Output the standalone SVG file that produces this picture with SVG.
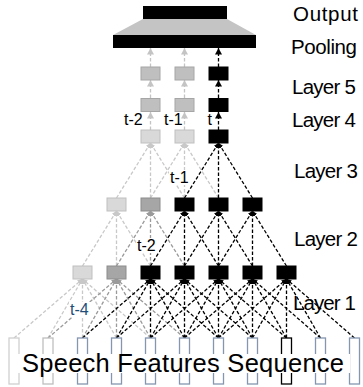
<svg xmlns="http://www.w3.org/2000/svg" width="363" height="387" viewBox="0 0 363 387">
<defs>
<style>
.c{fill:none;stroke-width:1.3;stroke-dasharray:3.5 2}
.k{stroke:#000;marker-end:url(#ak)}
.g{stroke:#9a9a9a;marker-end:url(#ag)}
.l{stroke:#c8c8c8;marker-end:url(#al)}
.vk{stroke:#000;marker-end:url(#bk)}
.vl{stroke:#c4c4c4;marker-end:url(#bl)}
.nk{fill:#000;stroke:#000;stroke-width:1}
.ng{fill:#a6a6a6;stroke:#8c8c8c;stroke-width:1}
.nl{fill:#d9d9d9;stroke:#bfbfbf;stroke-width:1}
.nm{fill:#bfbfbf;stroke:#a6a6a6;stroke-width:1}
.in{fill:#fff;stroke-width:1.3}
.lab{font-family:"Liberation Sans",Arial,sans-serif;font-size:20.5px;fill:#000}
.t{font-family:"Liberation Sans",Arial,sans-serif;font-size:16px;fill:#000}
</style>
<marker id="ak" markerUnits="userSpaceOnUse" markerWidth="6" markerHeight="6" refX="5" refY="2.5" orient="auto"><path d="M0,0 L5,2.5 L0,5 z" fill="#000"/></marker>
<marker id="ag" markerUnits="userSpaceOnUse" markerWidth="6" markerHeight="6" refX="5" refY="2.5" orient="auto"><path d="M0,0 L5,2.5 L0,5 z" fill="#9a9a9a"/></marker>
<marker id="al" markerUnits="userSpaceOnUse" markerWidth="6" markerHeight="6" refX="5" refY="2.5" orient="auto"><path d="M0,0 L5,2.5 L0,5 z" fill="#c8c8c8"/></marker>
<marker id="bk" markerUnits="userSpaceOnUse" markerWidth="8" markerHeight="8" refX="6.5" refY="3.5" orient="auto"><path d="M0,0 L6.5,3.5 L0,7 z" fill="#000"/></marker>
<marker id="bl" markerUnits="userSpaceOnUse" markerWidth="8" markerHeight="8" refX="6.5" refY="3.5" orient="auto"><path d="M0,0 L6.5,3.5 L0,7 z" fill="#c4c4c4"/></marker>
</defs>
<rect width="363" height="387" fill="#fff"/>
<g id="connectors">
<line class="c l" x1="14" y1="338" x2="82.5" y2="279"/>
<line class="c l" x1="48" y1="338" x2="82.5" y2="279"/>
<line class="c l" x1="82.5" y1="338" x2="82.5" y2="279"/>
<line class="c l" x1="116.5" y1="338" x2="82.5" y2="279"/>
<line class="c l" x1="150.5" y1="338" x2="82.5" y2="279"/>
<line class="c g" x1="48" y1="338" x2="116.5" y2="279"/>
<line class="c g" x1="82.5" y1="338" x2="116.5" y2="279"/>
<line class="c g" x1="116.5" y1="338" x2="116.5" y2="279"/>
<line class="c g" x1="150.5" y1="338" x2="116.5" y2="279"/>
<line class="c g" x1="184.5" y1="338" x2="116.5" y2="279"/>
<line class="c k" x1="82.5" y1="338" x2="150.5" y2="279"/>
<line class="c k" x1="116.5" y1="338" x2="150.5" y2="279"/>
<line class="c k" x1="150.5" y1="338" x2="150.5" y2="279"/>
<line class="c k" x1="184.5" y1="338" x2="150.5" y2="279"/>
<line class="c k" x1="218.5" y1="338" x2="150.5" y2="279"/>
<line class="c k" x1="116.5" y1="338" x2="184.5" y2="279"/>
<line class="c k" x1="150.5" y1="338" x2="184.5" y2="279"/>
<line class="c k" x1="184.5" y1="338" x2="184.5" y2="279"/>
<line class="c k" x1="218.5" y1="338" x2="184.5" y2="279"/>
<line class="c k" x1="252.5" y1="338" x2="184.5" y2="279"/>
<line class="c k" x1="150.5" y1="338" x2="218.5" y2="279"/>
<line class="c k" x1="184.5" y1="338" x2="218.5" y2="279"/>
<line class="c k" x1="218.5" y1="338" x2="218.5" y2="279"/>
<line class="c k" x1="252.5" y1="338" x2="218.5" y2="279"/>
<line class="c k" x1="286.5" y1="338" x2="218.5" y2="279"/>
<line class="c k" x1="184.5" y1="338" x2="252.5" y2="279"/>
<line class="c k" x1="218.5" y1="338" x2="252.5" y2="279"/>
<line class="c k" x1="252.5" y1="338" x2="252.5" y2="279"/>
<line class="c k" x1="286.5" y1="338" x2="252.5" y2="279"/>
<line class="c k" x1="320.5" y1="338" x2="252.5" y2="279"/>
<line class="c k" x1="218.5" y1="338" x2="286.5" y2="279"/>
<line class="c k" x1="252.5" y1="338" x2="286.5" y2="279"/>
<line class="c k" x1="286.5" y1="338" x2="286.5" y2="279"/>
<line class="c k" x1="320.5" y1="338" x2="286.5" y2="279"/>
<line class="c k" x1="354.5" y1="338" x2="286.5" y2="279"/>
<line class="c l" x1="82.5" y1="266" x2="116.5" y2="211"/>
<line class="c l" x1="116.5" y1="266" x2="116.5" y2="211"/>
<line class="c l" x1="150.5" y1="266" x2="116.5" y2="211"/>
<line class="c g" x1="116.5" y1="266" x2="150.5" y2="211"/>
<line class="c g" x1="150.5" y1="266" x2="150.5" y2="211"/>
<line class="c g" x1="184.5" y1="266" x2="150.5" y2="211"/>
<line class="c k" x1="150.5" y1="266" x2="184.5" y2="211"/>
<line class="c k" x1="184.5" y1="266" x2="184.5" y2="211"/>
<line class="c k" x1="218.5" y1="266" x2="184.5" y2="211"/>
<line class="c k" x1="184.5" y1="266" x2="218.5" y2="211"/>
<line class="c k" x1="218.5" y1="266" x2="218.5" y2="211"/>
<line class="c k" x1="252.5" y1="266" x2="218.5" y2="211"/>
<line class="c k" x1="218.5" y1="266" x2="252.5" y2="211"/>
<line class="c k" x1="252.5" y1="266" x2="252.5" y2="211"/>
<line class="c k" x1="286.5" y1="266" x2="252.5" y2="211"/>
<line class="c l" x1="116.5" y1="198" x2="150.5" y2="143"/>
<line class="c l" x1="150.5" y1="198" x2="150.5" y2="143"/>
<line class="c l" x1="184.5" y1="198" x2="150.5" y2="143"/>
<line class="c l" x1="150.5" y1="198" x2="184.5" y2="143"/>
<line class="c l" x1="184.5" y1="198" x2="184.5" y2="143"/>
<line class="c l" x1="218.5" y1="198" x2="184.5" y2="143"/>
<line class="c k" x1="184.5" y1="198" x2="218.5" y2="143"/>
<line class="c k" x1="218.5" y1="198" x2="218.5" y2="143"/>
<line class="c k" x1="252.5" y1="198" x2="218.5" y2="143"/>
<line class="c vl" x1="150.5" y1="130" x2="150.5" y2="112"/>
<line class="c vl" x1="184.5" y1="130" x2="184.5" y2="112"/>
<line class="c vk" x1="218.5" y1="130" x2="218.5" y2="112"/>
<line class="c vl" x1="150.5" y1="98" x2="150.5" y2="80"/>
<line class="c vl" x1="184.5" y1="98" x2="184.5" y2="80"/>
<line class="c vk" x1="218.5" y1="98" x2="218.5" y2="80"/>
<line class="c vl" x1="150.5" y1="67" x2="150.5" y2="48"/>
<line class="c vl" x1="184.5" y1="67" x2="184.5" y2="48"/>
<line class="c vk" x1="218.5" y1="67" x2="218.5" y2="48"/>
</g>
<g id="output"><rect x="143" y="6" width="84" height="13" fill="#000"/></g>
<g id="trapezoid"><polygon points="143,19 227,19 256,35 113,35" fill="#c4c4c4"/></g>
<g id="pooling"><rect x="113" y="35" width="143" height="13" fill="#000"/></g>
<g id="layer5">
<rect class="nm" x="141" y="67" width="19" height="13"/>
<rect class="nm" x="175" y="67" width="19" height="13"/>
<rect class="nk" x="209" y="67" width="19" height="13"/>
</g>
<g id="layer4">
<rect class="nm" x="141" y="98.5" width="19" height="13"/>
<rect class="nm" x="175" y="98.5" width="19" height="13"/>
<rect class="nk" x="209" y="98.5" width="19" height="13"/>
</g>
<g id="layer3">
<rect class="nl" x="141" y="130" width="19" height="13"/>
<rect class="nl" x="175" y="130" width="19" height="13"/>
<rect class="nk" x="209" y="130" width="19" height="13"/>
</g>
<g id="layer2">
<rect class="nl" x="107" y="198" width="19" height="13"/>
<rect class="ng" x="141" y="198" width="19" height="13"/>
<rect class="nk" x="175" y="198" width="19" height="13"/>
<rect class="nk" x="209" y="198" width="19" height="13"/>
<rect class="nk" x="243" y="198" width="19" height="13"/>
</g>
<g id="layer1">
<rect class="nl" x="73" y="266" width="19" height="13"/>
<rect class="ng" x="107" y="266" width="19" height="13"/>
<rect class="nk" x="141" y="266" width="19" height="13"/>
<rect class="nk" x="175" y="266" width="19" height="13"/>
<rect class="nk" x="209" y="266" width="19" height="13"/>
<rect class="nk" x="243" y="266" width="19" height="13"/>
<rect class="nk" x="277" y="266" width="19" height="13"/>
</g>
<g id="inputs">
<rect class="in" x="9" y="338" width="10" height="46" stroke="#d0d0d0"/>
<rect class="in" x="43" y="338" width="10" height="46" stroke="#bfbfbf"/>
<rect class="in" x="77.5" y="338" width="10" height="46" stroke="#8496b0"/>
<rect class="in" x="111.5" y="338" width="10" height="46" stroke="#8496b0"/>
<rect class="in" x="145.5" y="338" width="10" height="46" stroke="#8496b0"/>
<rect class="in" x="179.5" y="338" width="10" height="46" stroke="#8496b0"/>
<rect class="in" x="213.5" y="338" width="10" height="46" stroke="#8496b0"/>
<rect class="in" x="247.5" y="338" width="10" height="46" stroke="#8496b0"/>
<rect class="in" x="281.5" y="338" width="10" height="46" stroke="#000"/>
<rect class="in" x="315.5" y="338" width="10" height="46" stroke="#8496b0"/>
<rect class="in" x="349.5" y="338" width="10" height="46" stroke="#8496b0"/>
</g>
<g id="sequence-label">
<rect x="18" y="354" width="332" height="19" fill="#fff"/>
<text x="22" y="372" font-family="Liberation Sans, Arial, sans-serif" font-size="25.5" textLength="322" lengthAdjust="spacing">Speech Features Sequence</text>
</g>
<g id="time-labels">
<text class="t" x="124" y="125">t-2</text>
<text class="t" x="164" y="125">t-1</text>
<text class="t" x="207.5" y="125">t</text>
<rect x="169" y="170" width="22" height="15" fill="#fff"/>
<text class="t" x="170" y="183">t-1</text>
<rect x="136" y="238" width="23" height="15" fill="#fff"/>
<text class="t" x="137" y="251">t-2</text>
<rect x="69" y="302" width="24" height="15" fill="#fff"/>
<text class="t" x="70" y="315" style="fill:#1f4e79">t-4</text>
</g>
<g id="layer-labels">
<text class="lab" x="293" y="21" textLength="65">Output</text>
<text class="lab" x="291" y="54" textLength="66">Pooling</text>
<text class="lab" x="292" y="94" textLength="64">Layer 5</text>
<text class="lab" x="292" y="127" textLength="64">Layer 4</text>
<text class="lab" x="294" y="178" textLength="64">Layer 3</text>
<text class="lab" x="294" y="246" textLength="64">Layer 2</text>
<text class="lab" x="293" y="310" textLength="63">Layer 1</text>
</g>
</svg>
